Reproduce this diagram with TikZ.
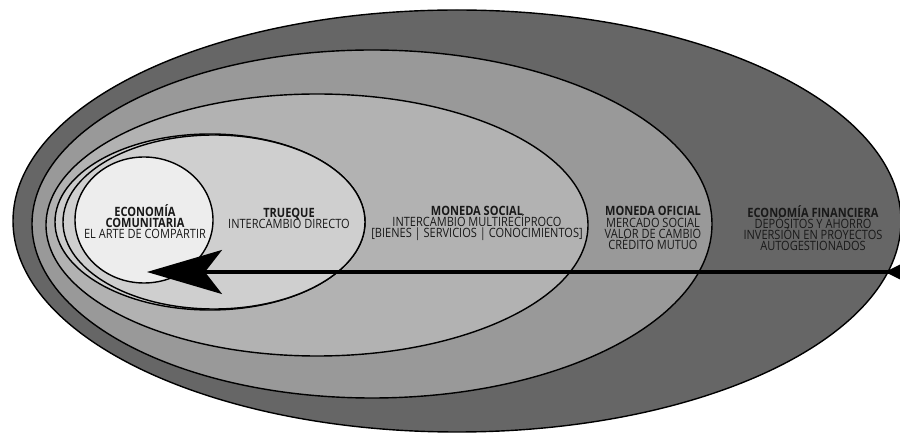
\documentclass[tikz,border=0pt]{standalone}
\usepackage{fontspec}
\setmainfont{Open Sans}[FakeStretch=0.86]
\usetikzlibrary{arrows.meta}
\newcommand{\tagfont}{\fontsize{7.3}{6.3}\selectfont\lineskiplimit=-5pt\relax\lineskip=0pt\relax}

\begin{document}
\begin{tikzpicture}[x=0.02cm, y=-0.02cm]
        \tikzstyle{zone}=[draw=black, line width=0.8pt]
        \tikzstyle{tag}=[align=center, inner sep=0pt, text=black!90, font=\tagfont]
        \tikzstyle{flow}=[line width=1.8pt, {Triangle[reversed,length=0.3cm,width=0.28cm]}-{Stealth[length=1.5cm,width=0.88cm,inset=0.34cm]}]
        \useasboundingbox (0,0) rectangle (900,435);
        % nested spheres, outermost first
        \draw[zone, fill=black!60] (457,221) ellipse [x radius=444, y radius=211];
        \draw[zone, fill=black!40] (372,224) ellipse [x radius=340, y radius=174];
        \draw[zone, fill=black!30] (317,225) ellipse [x radius=271, y radius=131];
        \draw[zone, fill=black!20] (210,222) ellipse [x radius=155, y radius=88];
        \draw[zone, fill=black!19] (214,222) ellipse [x radius=151, y radius=87];
        \draw[zone, fill=black!7] (144,220) ellipse [x radius=69, y radius=63];
        \coordinate (tail) at (900,272);
        \coordinate (tip) at (147,272);
        \draw[flow] (tail) -- (tip);
        \node[tag] (comunitaria) at (145,222) {\textbf{ECONOMÍA}\\\textbf{COMUNITARIA}\\EL ARTE DE COMPARTIR};
        \node[tag] (trueque) at (289,218) {\textbf{TRUEQUE}\\INTERCAMBIO DIRECTO};
        \node[tag] (social) at (477,223) {\textbf{MONEDA SOCIAL}\\INTERCAMBIO MULTIRECÍPROCO\\{[BIENES | SERVICIOS | CONOCIMIENTOS]}};
        \node[tag] (oficial) at (653,228) {\textbf{MONEDA OFICIAL}\\MERCADO SOCIAL\\VALOR DE CAMBIO\\CRÉDITO MUTUO};
        \node[tag] (financiera) at (813,228) {\textbf{ECONOMÍA FINANCIERA}\\DEPÓSITOS Y AHORRO\\INVERSIÓN EN PROYECTOS\\AUTOGESTIONADOS};
    \end{tikzpicture}
\end{document}
